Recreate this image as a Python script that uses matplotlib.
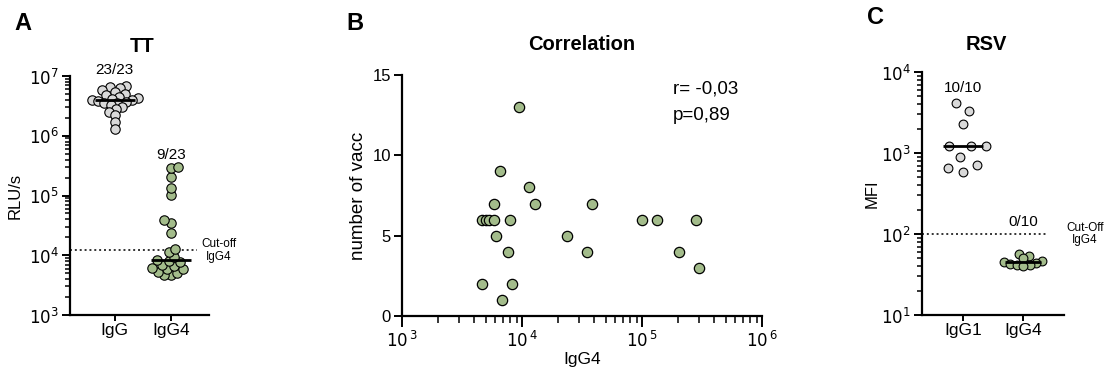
import numpy as np
import matplotlib
matplotlib.use("Agg")
import matplotlib.pyplot as plt
from matplotlib.ticker import LogLocator, FixedLocator, NullFormatter, FixedFormatter

plt.rcParams['font.family'] = ['Liberation Sans', 'DejaVu Sans']

# ---------------- data ----------------
tt_categories = ["IgG", "IgG4"]
tt_igg = [6.9e6, 6.5e6, 6.2e6, 5.8e6, 5.5e6, 5.0e6, 4.8e6, 4.5e6, 4.3e6, 4.2e6,
          4.0e6, 3.95e6, 3.8e6, 3.7e6, 3.6e6, 3.5e6, 3.3e6, 3.0e6, 2.8e6, 2.5e6,
          2.2e6, 1.7e6, 1.3e6]
# IgG4 values (shared by panel A and panel B x-axis)
igg4_vals = [4600, 4620, 5010, 5310, 5800, 5840, 6070, 6550, 6800, 7640, 7940, 8200,
             9500, 11500, 12900, 23900, 34900, 38500, 100700, 132700, 205000, 284000, 301000]
n_vacc = [2, 6, 6, 6, 7, 6, 5, 9, 1, 4, 6, 2,
          13, 8, 7, 5, 4, 7, 6, 6, 4, 6, 3]
tt_cutoff = 1.22e4
tt_counts = ["23/23", "9/23"]

corr_r = "r= -0,03"
corr_p = "p=0,89"

rsv_categories = ["IgG1", "IgG4"]
rsv_igg1 = [4100, 3330, 2260, 1220, 1220, 1220, 900, 710, 650, 590]
rsv_igg4 = [57, 53, 50, 47, 45, 44, 43, 42, 41, 40]
rsv_cutoff = 100
rsv_counts = ["10/10", "0/10"]

GRAY = "#d9d9d9"
GREEN = "#a3bc8b"

W, H = 1117, 375
fig = plt.figure(figsize=(W / 100, H / 100), dpi=100)


def px_rect(l, r, t, b):
    return [l / W, (H - b) / H, (r - l) / W, (b - t) / H]


def style_axes(ax):
    for s in ["top", "right"]:
        ax.spines[s].set_visible(False)
    for s in ["left", "bottom"]:
        ax.spines[s].set_linewidth(1.6)
    ax.tick_params(which="major", direction="out", length=6, width=1.4, labelsize=12, pad=2)
    ax.tick_params(which="minor", direction="out", length=3.5, width=1.1)


def swarm_x(ax, xc, vals, d):
    pts = ax.transData.transform(np.column_stack([np.full(len(vals), xc), vals]))
    ys = pts[:, 1]
    x0 = pts[0, 0]
    order = np.argsort(ys)
    cands = np.arange(-80, 80.01, 0.5)
    placed = []
    offs = np.zeros(len(vals))
    for k, i in enumerate(order):
        sign = 1 if k % 2 == 0 else -1
        cs = sorted(cands, key=lambda c: (abs(c), -sign * c))
        for c in cs:
            if all((c - px) ** 2 + (ys[i] - py) ** 2 >= d * d for px, py in placed):
                break
        offs[i] = c
        placed.append((c, ys[i]))
    back = ax.transData.inverted().transform(np.column_stack([x0 + offs, ys]))
    return back[:, 0]


def log_yaxis(ax, lo, hi):
    ax.set_yscale("log")
    ax.set_ylim(10 ** lo, 10 ** hi)
    ax.yaxis.set_major_locator(FixedLocator([10.0 ** e for e in range(lo, hi + 1)]))
    ax.yaxis.set_major_formatter(FixedFormatter([r"$10^{%d}$" % e for e in range(lo, hi + 1)]))
    ax.yaxis.set_minor_locator(LogLocator(base=10, subs=np.arange(2, 10)))
    ax.yaxis.set_minor_formatter(NullFormatter())


# ---------------- Panel A ----------------
axA = fig.add_axes(px_rect(70, 209, 76, 315))
style_axes(axA)
log_yaxis(axA, 3, 7)
axA.set_xlim(-0.8, 1.68)
axA.set_xticks([0, 1])
axA.set_xticklabels(tt_categories, fontsize=12.5)
axA.tick_params(axis="x", length=4)

xa0 = swarm_x(axA, 0, tt_igg, 6.3)
xa1 = swarm_x(axA, 1, igg4_vals, 6.8)
axA.scatter(xa0, tt_igg, s=46, facecolor=GRAY, edgecolor="black", linewidth=0.8, zorder=3, clip_on=False)
axA.scatter(xa1, igg4_vals, s=46, facecolor=GREEN, edgecolor="black", linewidth=0.8, zorder=3, clip_on=False)
for xc, v in [(0, tt_igg), (1, igg4_vals)]:
    m = np.median(v)
    axA.plot([xc - 0.36, xc + 0.36], [m, m], color="black", lw=2, zorder=4, solid_capstyle="butt")
axA.plot([-0.8, 1.46], [tt_cutoff, tt_cutoff], color="#333333", lw=1.4, ls=(0, (1, 1.5)), zorder=2, clip_on=False)
axA.text(1.86, tt_cutoff, "Cut-off\nIgG4", fontsize=8.5, ha="center", va="center", linespacing=1.1)
axA.text(0, 10 ** 7.1, tt_counts[0], fontsize=11, ha="center", va="center")
axA.text(1, 10 ** 5.68, tt_counts[1], fontsize=11, ha="center", va="center")
axA.set_ylabel("RLU/s", fontsize=12)
axA.yaxis.set_label_coords(-0.338, 0.5)

# ---------------- Panel B ----------------
axB = fig.add_axes(px_rect(402, 762, 75, 316))
style_axes(axB)
axB.set_xscale("log")
axB.set_xlim(1e3, 1e6)
axB.set_ylim(0, 15)
axB.set_yticks([0, 5, 10, 15])
axB.xaxis.set_major_locator(FixedLocator([1e3, 1e4, 1e5, 1e6]))
axB.xaxis.set_major_formatter(FixedFormatter([r"$10^{\,3}$", r"$10^{\,4}$", r"$10^{\,5}$", r"$10^{\,6}$"]))
axB.xaxis.set_minor_locator(LogLocator(base=10, subs=np.arange(2, 10)))
axB.xaxis.set_minor_formatter(NullFormatter())
axB.tick_params(axis="x", which="major", length=8)
axB.tick_params(axis="x", which="minor", length=5)
axB.scatter(igg4_vals, n_vacc, s=55, facecolor=GREEN, edgecolor="black", linewidth=0.9, zorder=3, clip_on=False)
axB.set_ylabel("number of vacc", fontsize=13.5)
axB.yaxis.set_label_coords(-0.097, 0.5)
axB.set_xlabel("IgG4", fontsize=12.5)
axB.xaxis.set_label_coords(0.5, -0.15)
axB.text(0.753, 0.94, corr_r, transform=axB.transAxes, fontsize=13.5, ha="left", va="center")
axB.text(0.753, 0.83, corr_p, transform=axB.transAxes, fontsize=13.5, ha="left", va="center")

# ---------------- Panel C ----------------
axC = fig.add_axes(px_rect(922, 1064, 72, 315))
style_axes(axC)
log_yaxis(axC, 1, 4)
axC.set_xlim(-0.68, 1.68)
axC.set_xticks([0, 1])
axC.set_xticklabels(rsv_categories, fontsize=12.5)
axC.tick_params(axis="x", length=4)
xc0 = swarm_x(axC, 0, rsv_igg1, 15)
xc1 = swarm_x(axC, 1, rsv_igg4, 6.3)
axC.scatter(xc0, rsv_igg1, s=40, facecolor=GRAY, edgecolor="black", linewidth=0.8, zorder=3, clip_on=False)
axC.scatter(xc1, rsv_igg4, s=40, facecolor=GREEN, edgecolor="black", linewidth=0.8, zorder=3, clip_on=False)
for xc, v, hw in [(0, rsv_igg1, 0.33), (1, rsv_igg4, 0.3)]:
    m = np.median(v)
    axC.plot([xc - hw, xc + hw], [m, m], color="black", lw=2, zorder=4, solid_capstyle="butt")
axC.plot([-0.68, 1.42], [rsv_cutoff, rsv_cutoff], color="#333333", lw=1.4, ls=(0, (1, 1.5)), zorder=2, clip_on=False)
axC.text(2.03, rsv_cutoff, "Cut-Off\nIgG4", fontsize=8.5, ha="center", va="center", linespacing=1.1)
axC.text(0, 10 ** 3.8, rsv_counts[0], fontsize=11, ha="center", va="center")
axC.text(1, 10 ** 2.15, rsv_counts[1], fontsize=11, ha="center", va="center")
axC.set_ylabel("MFI", fontsize=12)
axC.yaxis.set_label_coords(-0.296, 0.5)

# ---------------- titles and letters ----------------
def ftext(x, y, s, **kw):
    fig.text(x / W, 1 - y / H, s, **kw)

ftext(142, 46, "TT", fontsize=14.5, fontweight="bold", ha="center", va="center")
ftext(582, 45, "Correlation", fontsize=14.5, fontweight="bold", ha="center", va="center")
ftext(986, 45, "RSV", fontsize=14.5, fontweight="bold", ha="center", va="center")
ftext(23, 23, "A", fontsize=17, fontweight="bold", ha="center", va="center")
ftext(355, 23, "B", fontsize=17, fontweight="bold", ha="center", va="center")
ftext(875, 18, "C", fontsize=17, fontweight="bold", ha="center", va="center")

fig.savefig("out.png", dpi=100, facecolor="white")
